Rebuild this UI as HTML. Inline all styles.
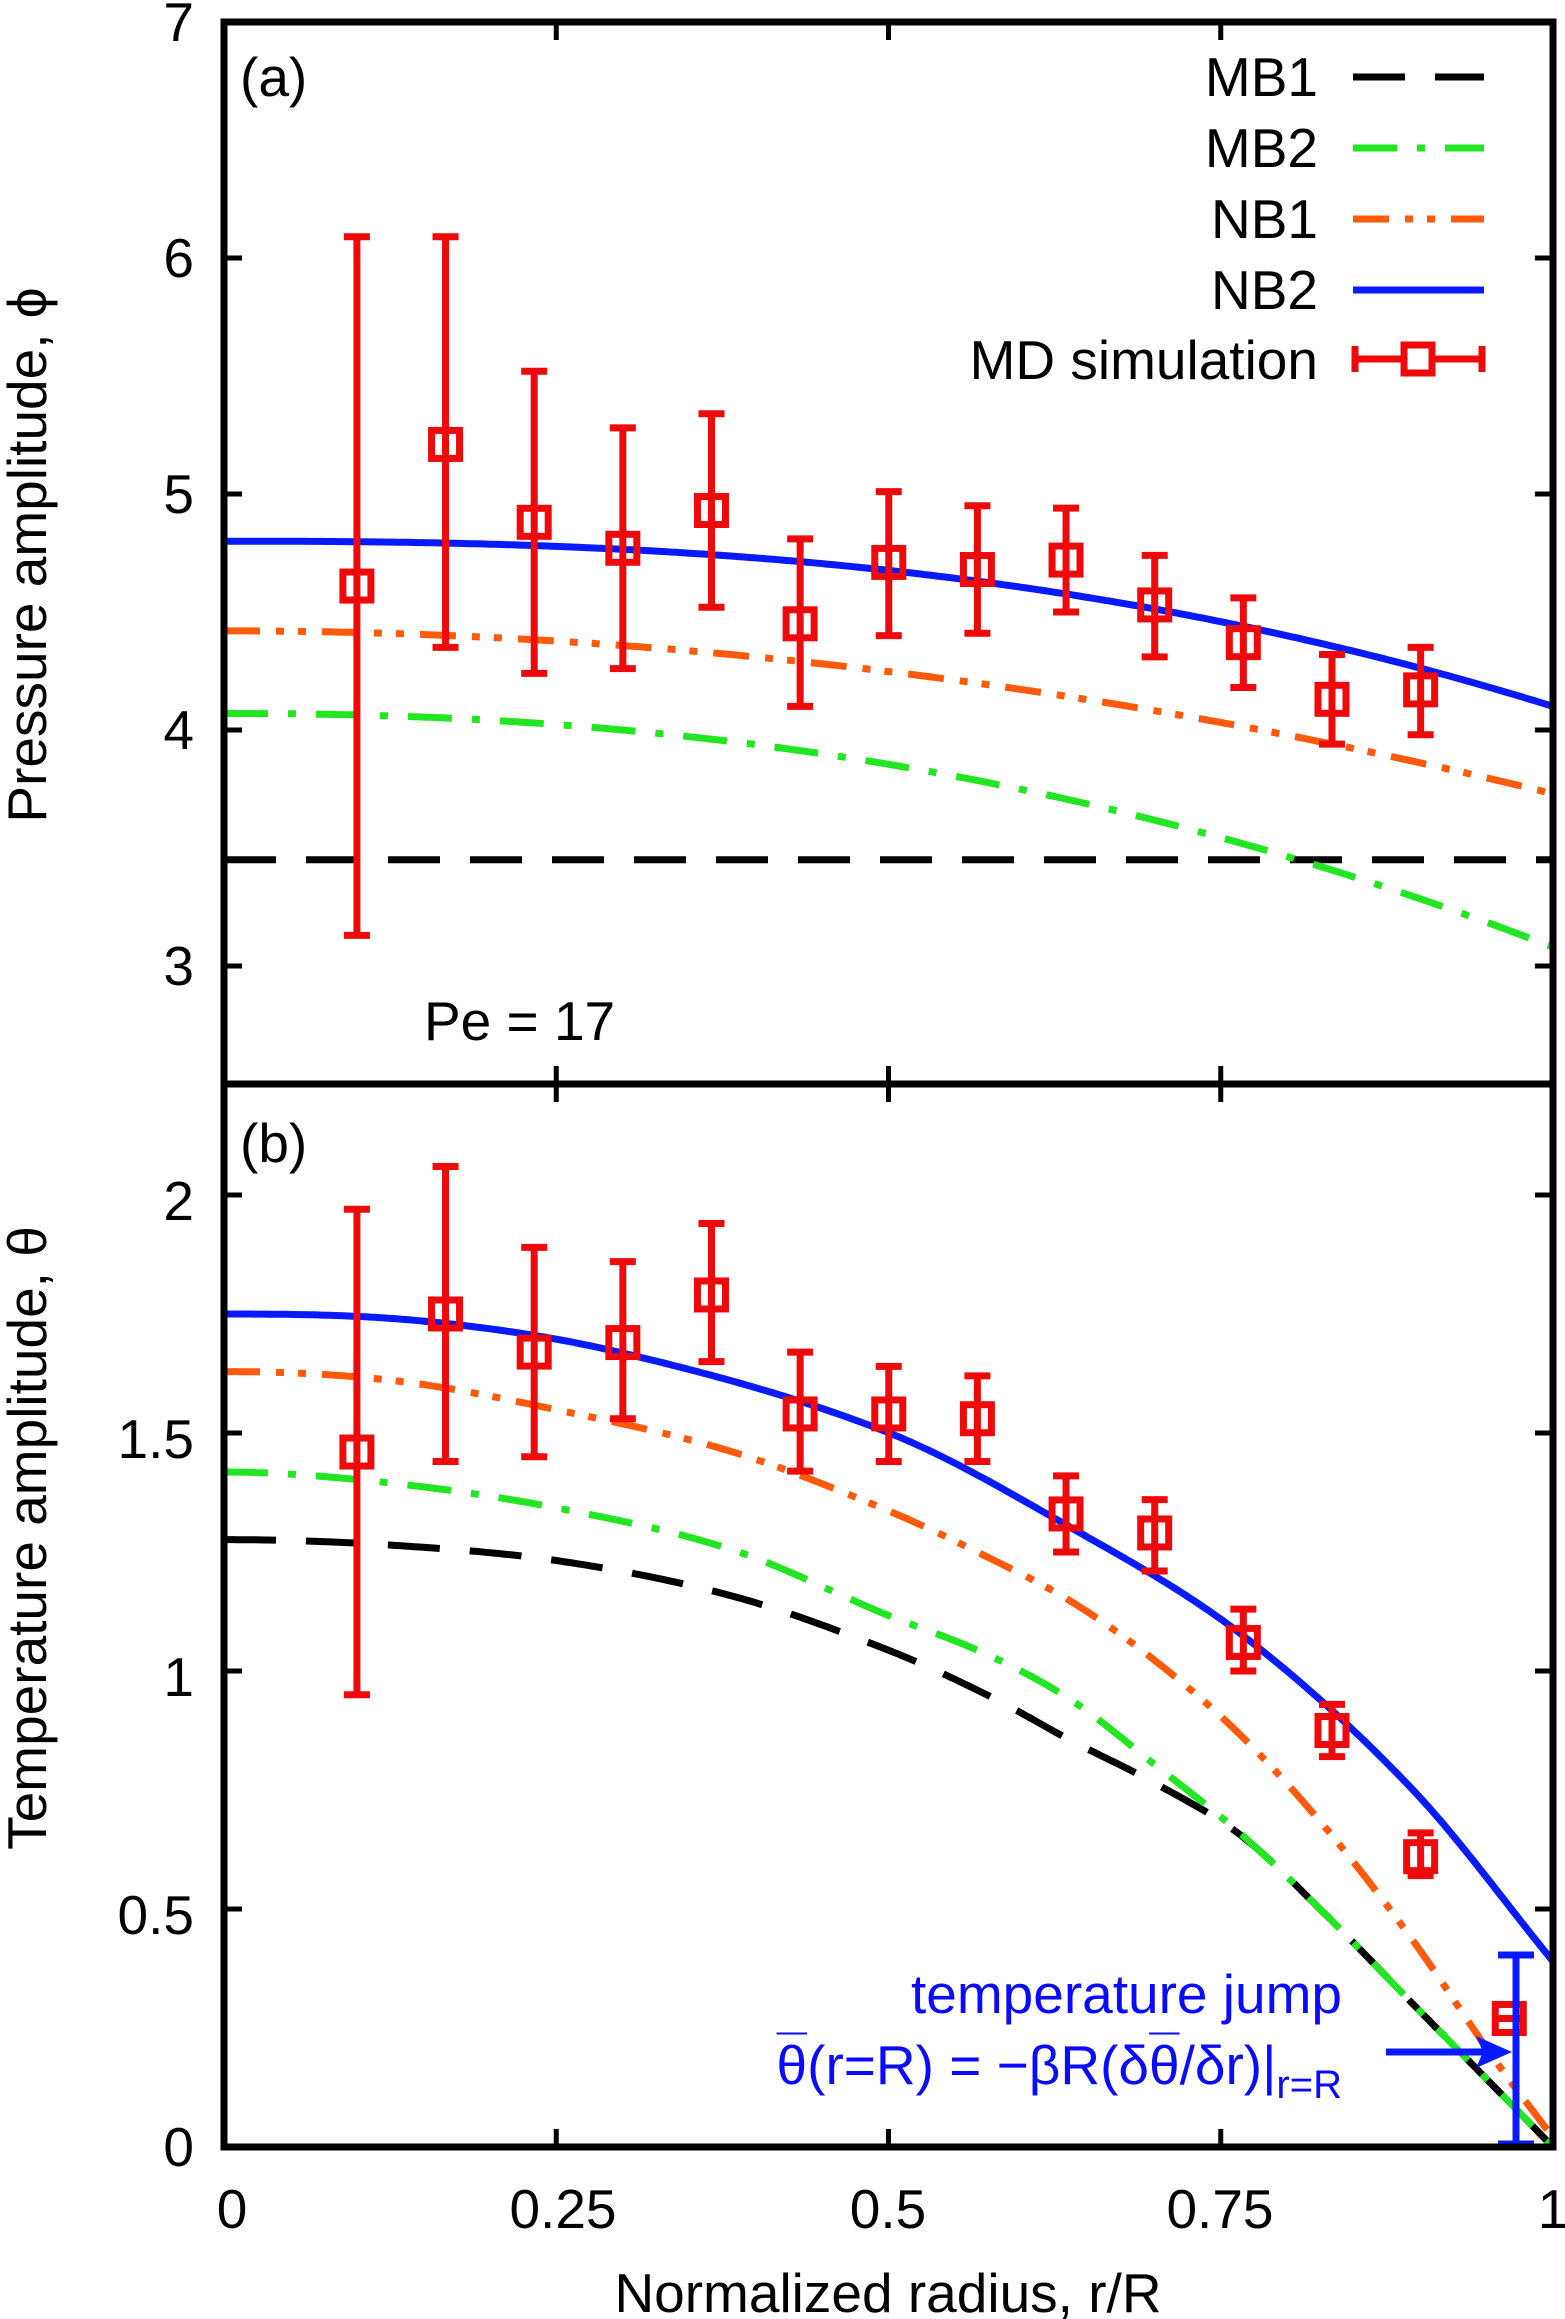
<!DOCTYPE html>
<html><head><meta charset="utf-8"><style>
html,body{margin:0;padding:0;background:#fff}
svg{display:block}
text{font-family:"Liberation Sans",sans-serif;font-size:55px;fill:#000}
</style></head><body>
<svg id="s" width="1565" height="2319" viewBox="0 0 1565 2319" xmlns="http://www.w3.org/2000/svg">
<defs><clipPath id="ca"><rect x="224" y="22" width="1329" height="1062"/></clipPath>
<clipPath id="cb"><rect x="224" y="1084" width="1329" height="1063"/></clipPath></defs>
<g id="g"></g>
<g text-anchor="end">
<text x="194" y="41">7</text><text x="194" y="277">6</text><text x="194" y="513">5</text><text x="194" y="749">4</text><text x="194" y="985">3</text>
<text x="194" y="1220">2</text><text x="194" y="1458">1.5</text><text x="194" y="1696">1</text><text x="194" y="1934">0.5</text><text x="194" y="2166">0</text>
</g>
<g text-anchor="middle">
<text x="232" y="2228">0</text><text x="563" y="2228">0.25</text><text x="888" y="2228">0.5</text><text x="1220" y="2228">0.75</text><text x="1553" y="2228">1</text>
<text x="888" y="2312">Normalized radius, r/R</text>
<text transform="translate(46,555) rotate(-90)">Pressure amplitude, <tspan text-decoration="overline">ϕ</tspan></text>
<text transform="translate(46,1538) rotate(-90)">Temperature amplitude, <tspan text-decoration="overline">θ</tspan></text>
</g>
<text x="240" y="96">(a)</text>
<text x="240" y="1162">(b)</text>
<text x="424" y="1040">Pe = 17</text>
<g text-anchor="end">
<text x="1318" y="96">MB1</text><text x="1318" y="167">MB2</text><text x="1318" y="238">NB1</text><text x="1318" y="309">NB2</text><text x="1318" y="379">MD simulation</text>
<text x="1342" y="2013" style="fill:#0a0aff">temperature jump</text>
<text x="1342" y="2084" style="fill:#0a0aff"><tspan text-decoration="overline">θ</tspan>(r=R) = −βR(δ<tspan text-decoration="overline">θ</tspan>/δr)|<tspan font-size="40" dy="14">r=R</tspan></text>
</g>
</svg>
<script>
var g=document.getElementById('g'),NS='http://www.w3.org/2000/svg';
function el(t,a,p){var e=document.createElementNS(NS,t);for(var k in a)e.setAttribute(k,a[k]);(p||g).appendChild(e);return e;}
function X(r){return 224+1329*r}
function Ya(v){return 22+(7-v)*236}
function Yb(v){return 2147-476*v}
var C={k:'#000',g:'#22e622',o:'#ff5a0a',b:'#0a1aff',r:'#ee0a0a'};
var D={k:'52 30',g:'44 20 8 20',o:'36 16 8 14 8 16'};
var LW=7;
function curve(f,Y,col,dash,clip){var d='';for(var i=0;i<=300;i++){var r=i/300;d+=(i?'L':'M')+X(r).toFixed(1)+' '+Y(f(r)).toFixed(1);}
 var a={d:d,fill:'none',stroke:col,'stroke-width':LW,'clip-path':'url(#'+clip+')'};if(dash)a['stroke-dasharray']=dash;el('path',a);}
function interp(p){var n=p.length,m=[];
 for(var i=0;i<n;i++){if(i==0)m[i]=(p[1][1]-p[0][1])/(p[1][0]-p[0][0]);else if(i==n-1)m[i]=(p[n-1][1]-p[n-2][1])/(p[n-1][0]-p[n-2][0]);else m[i]=(p[i+1][1]-p[i-1][1])/(p[i+1][0]-p[i-1][0]);}
 m[0]=0;
 return function(r){for(var i=1;i<n;i++){if(r<=p[i][0]||i==n-1){var a=p[i-1],b=p[i],h=b[0]-a[0],t=(r-a[0])/h,t2=t*t,t3=t2*t;
  return (2*t3-3*t2+1)*a[1]+(t3-2*t2+t)*h*m[i-1]+(-2*t3+3*t2)*b[1]+(t3-t2)*h*m[i];}}};}
curve(function(r){return 3.45},Ya,C.k,D.k,'ca');
curve(function(r){return 4.07-0.99*Math.pow(r,2.2)},Ya,C.g,D.g,'ca');
curve(function(r){return 4.42-0.69*r*r},Ya,C.o,D.o,'ca');
curve(function(r){return 4.8-0.7*Math.pow(r,2.5)},Ya,C.b,null,'ca');
var nb2=interp([[0,1.75],[0.15,1.735],[0.3,1.668],[0.497,1.504],[0.638,1.30],[0.765,1.078],[0.893,0.755],[1,0.39]]);
var nb1=interp([[0,1.629],[0.128,1.61],[0.255,1.546],[0.383,1.46],[0.497,1.34],[0.574,1.24],[0.638,1.145],[0.70,1.023],[0.765,0.865],[0.829,0.67],[0.893,0.44],[0.957,0.18],[1,0.02]]);
var mb2=interp([[0,1.418],[0.128,1.394],[0.255,1.34],[0.383,1.254],[0.497,1.12],[0.574,1.035],[0.638,0.938],[0.70,0.804],[0.765,0.658],[0.829,0.488],[0.893,0.305],[0.957,0.123],[1,0.0]]);
var mb1=interp([[0,1.276],[0.128,1.264],[0.255,1.23],[0.383,1.157],[0.497,1.047],[0.574,0.95],[0.638,0.853],[0.70,0.765],[0.765,0.655],[0.829,0.488],[0.893,0.305],[0.957,0.123],[1,0.0]]);
curve(mb1,Yb,C.k,D.k,'cb');curve(mb2,Yb,C.g,D.g,'cb');curve(nb1,Yb,C.o,D.o,'cb');curve(nb2,Yb,C.b,null,'cb');
function pt(x,y,lo,hi){var lw=7;el('line',{x1:x,y1:lo,x2:x,y2:hi,stroke:C.r,'stroke-width':lw});
 el('line',{x1:x-13,y1:lo,x2:x+13,y2:lo,stroke:C.r,'stroke-width':lw});el('line',{x1:x-13,y1:hi,x2:x+13,y2:hi,stroke:C.r,'stroke-width':lw});
 el('rect',{x:x-14,y:y-14,width:28,height:28,fill:'none',stroke:C.r,'stroke-width':7});}
var A=[[4.61,6.09,3.13],[5.21,6.09,4.35],[4.88,5.52,4.24],[4.77,5.28,4.26],[4.93,5.34,4.52],[4.45,4.81,4.10],[4.71,5.01,4.40],[4.68,4.95,4.41],[4.72,4.94,4.50],[4.53,4.74,4.31],[4.37,4.56,4.18],[4.13,4.32,3.94],[4.17,4.35,3.98]];
A.forEach(function(p,i){var x=X(0.1+i*0.0667);pt(x,Ya(p[0]),Ya(p[2]),Ya(p[1]));});
var B=[[1.46,1.97,0.95],[1.75,2.06,1.44],[1.67,1.89,1.45],[1.69,1.86,1.53],[1.79,1.94,1.65],[1.54,1.67,1.42],[1.54,1.64,1.44],[1.53,1.62,1.44],[1.33,1.41,1.25],[1.29,1.36,1.21],[1.06,1.13,1.00],[0.875,0.93,0.82],[0.61,0.66,0.57],[0.27,0.27,0.27]];
B.forEach(function(p,i){var x=X(0.1+i*0.0667);pt(x,Yb(p[0]),Yb(p[2]),Yb(p[1]));});
var bx=1516;el('line',{x1:bx,y1:1955,x2:bx,y2:2146,stroke:C.b,'stroke-width':7});
el('line',{x1:bx-18,y1:1955,x2:bx+18,y2:1955,stroke:C.b,'stroke-width':7});el('line',{x1:bx-18,y1:2145,x2:bx+18,y2:2145,stroke:C.b,'stroke-width':9});
el('line',{x1:1386,y1:2052,x2:1485,y2:2052,stroke:C.b,'stroke-width':7});
el('path',{d:'M1512 2052 L1476 2036 L1483 2052 L1476 2068 Z',fill:C.b});
el('rect',{x:224,y:22,width:1329,height:2125,fill:'none',stroke:'#000','stroke-width':7});
el('line',{x1:224,y1:1084,x2:1553,y2:1084,stroke:'#000','stroke-width':7});
[0.25,0.5,0.75].forEach(function(r){var x=X(r);[[22,1],[1084,-1],[1084,1],[2147,-1]].forEach(function(q){el('line',{x1:x,y1:q[0],x2:x,y2:q[0]+q[1]*18,stroke:'#000','stroke-width':5});});});
[3,4,5,6].forEach(function(v){var y=Ya(v);el('line',{x1:224,y1:y,x2:242,y2:y,stroke:'#000','stroke-width':5});el('line',{x1:1553,y1:y,x2:1535,y2:y,stroke:'#000','stroke-width':5});});
[0.5,1,1.5,2].forEach(function(v){var y=Yb(v);el('line',{x1:224,y1:y,x2:242,y2:y,stroke:'#000','stroke-width':5});el('line',{x1:1553,y1:y,x2:1535,y2:y,stroke:'#000','stroke-width':5});});
var ls=[[77,C.k,D.k],[148,C.g,D.g],[219,C.o,D.o],[290,C.b,null]];
ls.forEach(function(l){var a={x1:1353,y1:l[0],x2:1484,y2:l[0],stroke:l[1],'stroke-width':LW};if(l[2])a['stroke-dasharray']=l[2];el('line',a);});
el('line',{x1:1355,y1:359,x2:1482,y2:359,stroke:C.r,'stroke-width':7});
el('line',{x1:1355,y1:346,x2:1355,y2:372,stroke:C.r,'stroke-width':7});el('line',{x1:1482,y1:346,x2:1482,y2:372,stroke:C.r,'stroke-width':7});
el('rect',{x:1404,y:345,width:28,height:28,fill:'#fff',stroke:C.r,'stroke-width':7});
</script>
</body></html>
